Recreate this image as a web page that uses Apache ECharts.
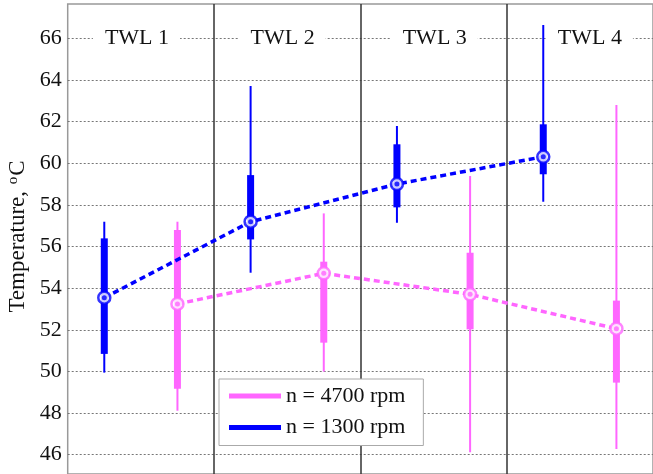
<!DOCTYPE html>
<html>
<head>
<meta charset="utf-8">
<script src="https://cdn.jsdelivr.net/npm/echarts@6/dist/echarts.min.js"></script>
<style>
html, body { margin: 0; padding: 0; background: #fff; }
#chart { width: 653px; height: 474px; }
</style>
</head>
<body>
<div id="chart"></div>
<script>
// Test-rig temperature spread per wall location, two engine speeds
const panels = ['TWL 1', 'TWL 2', 'TWL 3', 'TWL 4'];
const yTicks = [46, 48, 50, 52, 54, 56, 58, 60, 62, 64, 66];

// n = 1300 rpm
const slowWhiskerLow  = [49.94, 54.74, 57.14, 58.15];
const slowBoxLow      = [50.84, 56.34, 57.88, 59.47];
const slowMedian      = [53.54, 57.19, 59.00, 60.31];
const slowBoxHigh     = [56.39, 59.43, 60.91, 61.87];
const slowWhiskerHigh = [57.19, 63.71, 61.79, 66.64];

// n = 4700 rpm
const fastWhiskerLow  = [48.11, 49.99, 46.12, 46.27];
const fastBoxLow      = [49.17, 51.38, 52.02, 49.46];
const fastMedian      = [53.24, 54.71, 53.70, 52.05];
const fastBoxHigh     = [56.79, 55.27, 55.70, 53.40];
const fastWhiskerHigh = [57.19, 57.59, 59.39, 62.80];

const FONT = "'Liberation Serif', 'Times New Roman', serif";
const BLUE = '#0000ff';
const PINK = '#ff66ff';
// horizontal anchor of each panel heading, as a fraction into its panel
const TITLE_ANCHOR = [0.47, 0.465, 0.505, 0.565];

function rows(offset, wl, bl, md, bh, wh) {
  return panels.map((_, i) => [i + offset, wl[i], bl[i], md[i], bh[i], wh[i]]);
}
const slowRows = rows(0.25, slowWhiskerLow, slowBoxLow, slowMedian, slowBoxHigh, slowWhiskerHigh);
const fastRows = rows(0.75, fastWhiskerLow, fastBoxLow, fastMedian, fastBoxHigh, fastWhiskerHigh);

function boxRenderer(color) {
  return function (params, api) {
    const x = api.value(0);
    const wl = api.coord([x, api.value(1)]);
    const bl = api.coord([x, api.value(2)]);
    const bh = api.coord([x, api.value(4)]);
    const wh = api.coord([x, api.value(5)]);
    return {
      type: 'group',
      children: [
        { type: 'line', shape: { x1: wl[0], y1: wl[1], x2: wh[0], y2: wh[1] },
          style: { stroke: color, lineWidth: 2 } },
        { type: 'rect', shape: { x: bl[0] - 3.5, y: bh[1], width: 7, height: bl[1] - bh[1] },
          style: { fill: color } }
      ]
    };
  };
}

function medianPoints(rs) { return rs.map(r => [r[0], r[3]]); }

const chart = echarts.init(document.getElementById('chart'), null, { renderer: 'canvas' });

chart.setOption({
  animation: false,
  backgroundColor: '#fff',
  grid: {
    left: 67.7, top: 4, right: -1, bottom: 0,
    show: true, borderColor: '#999', borderWidth: 1.5
  },
  xAxis: {
    type: 'value', min: 0, max: 4, interval: 1,
    axisLine: { show: false }, axisTick: { show: false }, axisLabel: { show: false },
    splitLine: { show: true, showMinLine: false, showMaxLine: false,
      lineStyle: { color: '#333', width: 1.5 } }
  },
  yAxis: {
    type: 'value', min: 45.07, max: 67.65,
    axisLine: { show: false },
    axisTick: { show: false, customValues: yTicks },
    axisLabel: { fontSize: 22, fontFamily: FONT, color: '#111', margin: 6,
      customValues: yTicks },
    splitLine: { show: true,
      lineStyle: { color: '#777', type: [2, 2], width: 1 } }
  },
  legend: {
    orient: 'vertical', left: 219, top: 379,
    padding: [6, 18, 7, 10], itemGap: 9.5,
    itemWidth: 52, itemHeight: 5,
    backgroundColor: '#fff', borderColor: '#aaa', borderWidth: 1,
    textStyle: { fontSize: 22, fontFamily: FONT, color: '#111' },
    data: [{ name: 'n = 4700 rpm', icon: 'rect' }, { name: 'n = 1300 rpm', icon: 'rect' }]
  },
  graphic: [{
    type: 'text', x: 18, y: 236.5, rotation: Math.PI / 2,
    style: {
      text: 'Temperature, {s|o}C',
      font: '23px ' + FONT, fill: '#111',
      align: 'center', verticalAlign: 'middle',
      rich: { s: { fontSize: 15, fontFamily: FONT, fill: '#111', padding: [0, 1, 10, 1] } }
    }
  }],
  series: [
    {
      name: 'panel titles', type: 'custom',
      data: panels.map((p, i) => [i + TITLE_ANCHOR[i], 66]),
      renderItem: function (params, api) {
        const p = api.coord([api.value(0), api.value(1)]);
        return {
          type: 'text', x: p[0], y: p[1] - 0.5,
          style: {
            text: panels[params.dataIndex], font: '22px ' + FONT, fill: '#111',
            align: 'center', verticalAlign: 'middle',
            backgroundColor: '#fff', padding: [2, 11, 2, 12]
          }
        };
      },
      z: 1
    },
    {
      name: 'n = 4700 rpm', type: 'custom', itemStyle: { color: PINK },
      renderItem: boxRenderer(PINK), data: fastRows,
      encode: { x: 0, y: [1, 2, 3, 4, 5] }, z: 2
    },
    {
      name: 'n = 1300 rpm', type: 'custom', itemStyle: { color: BLUE },
      renderItem: boxRenderer(BLUE), data: slowRows,
      encode: { x: 0, y: [1, 2, 3, 4, 5] }, z: 2
    },
    {
      name: 'fast trend', type: 'line', data: medianPoints(fastRows), symbol: 'none',
      lineStyle: { color: PINK, width: 3.5, type: [6, 4] }, z: 3
    },
    {
      name: 'slow trend', type: 'line', data: medianPoints(slowRows), symbol: 'none',
      lineStyle: { color: BLUE, width: 3.5, type: [6, 4] }, z: 3
    },
    {
      name: 'fast median', type: 'scatter', data: medianPoints(fastRows), symbolSize: 12,
      itemStyle: { color: '#fff', borderColor: PINK, borderWidth: 2.5 }, z: 4
    },
    {
      name: 'slow median', type: 'scatter', data: medianPoints(slowRows), symbolSize: 12,
      itemStyle: { color: '#fff', borderColor: BLUE, borderWidth: 2.5 }, z: 4
    },
    {
      name: 'fast median dot', type: 'scatter', data: medianPoints(fastRows), symbolSize: 5,
      itemStyle: { color: PINK }, z: 5
    },
    {
      name: 'slow median dot', type: 'scatter', data: medianPoints(slowRows), symbolSize: 5,
      itemStyle: { color: BLUE }, z: 5
    }
  ]
});
</script>
</body>
</html>
